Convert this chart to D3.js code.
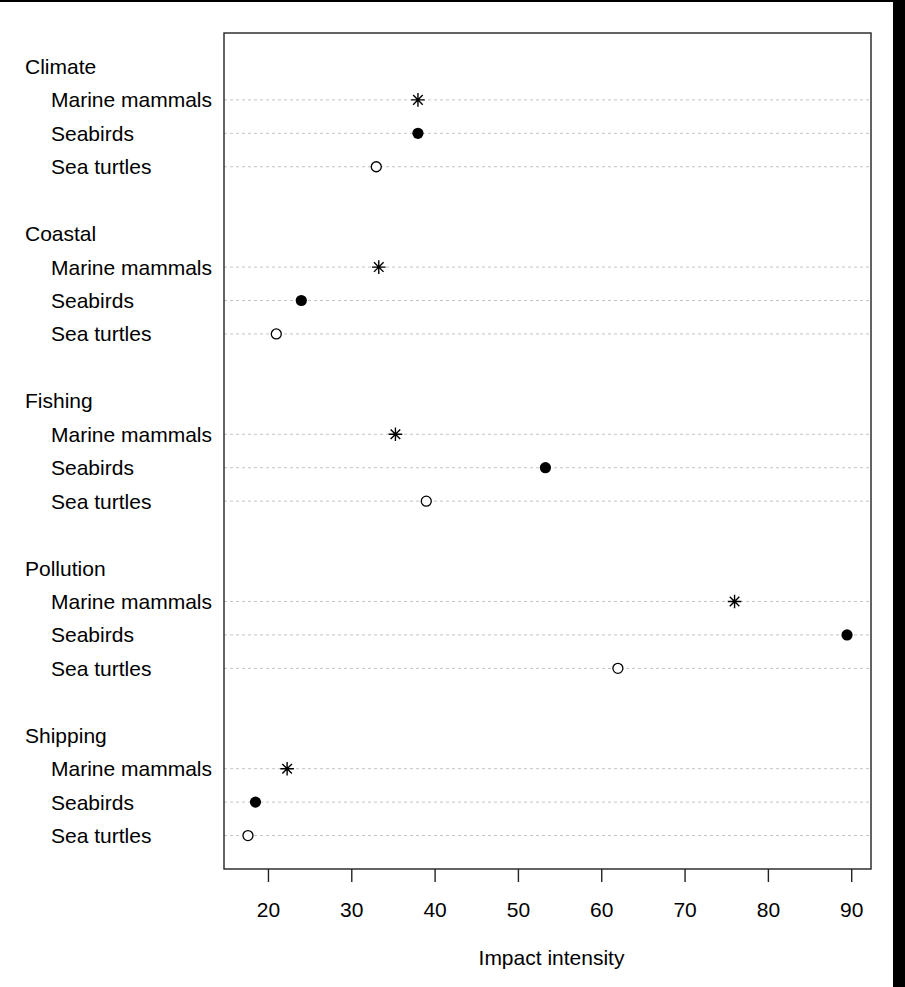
<!DOCTYPE html>
<html>
<head>
<meta charset="utf-8">
<script src="https://cdn.jsdelivr.net/npm/d3@7"></script>
<style>
  html, body { margin: 0; padding: 0; background: #fff; }
  svg { display: block; }
  text { font-family: "Liberation Sans", Arial, Helvetica, sans-serif; fill: #000; }
</style>
</head>
<body>
<script>
// Threat categories and affected taxa
const groups = ["Climate", "Coastal", "Fishing", "Pollution", "Shipping"];
const taxa = ["Marine mammals", "Seabirds", "Sea turtles"];

// Impact intensity per threat (same order as groups)
const marineMammals = [38.0, 33.3, 35.3, 76.0, 22.3];
const seabirds      = [38.0, 24.0, 53.3, 89.5, 18.5];
const seaTurtles    = [33.0, 21.0, 39.0, 62.0, 17.6];

const xTicks = [20, 30, 40, 50, 60, 70, 80, 90];
const xTitle = "Impact intensity";

const W = 905, H = 987;
const box = { left: 224, right: 871, top: 33, bottom: 869 };
const fontSize = 21;

const svg = d3.select("body").append("svg")
  .attr("width", W).attr("height", H);

svg.append("rect").attr("width", W).attr("height", H).attr("fill", "#fff");

// x range padded 4% on each side of the data range
const allVals = marineMammals.concat(seabirds, seaTurtles);
const [lo, hi] = d3.extent(allVals);
const pad = (hi - lo) * 0.04;
const x = d3.scaleLinear().domain([lo - pad, hi + pad]).range([box.left, box.right]);

// one row per label line, with a blank row between groups
const nLines = groups.length * (taxa.length + 1) + (groups.length - 1);
const y = d3.scaleLinear().domain([0, nLines + 1]).range([box.bottom, box.top]);

const seriesByTaxon = [marineMammals, seabirds, seaTurtles];
const rows = [];
groups.forEach((g, gi) => {
  const head = nLines - gi * (taxa.length + 2);
  rows.push({ kind: "group", label: g, pos: head });
  taxa.forEach((t, ti) => {
    rows.push({ kind: "item", label: t, pos: head - 1 - ti, taxon: ti, value: seriesByTaxon[ti][gi] });
  });
});
const items = rows.filter(r => r.kind === "item");

// dotted guide lines
svg.append("g").selectAll("line").data(items).join("line")
  .attr("x1", box.left).attr("x2", box.right)
  .attr("y1", d => y(d.pos)).attr("y2", d => y(d.pos))
  .attr("stroke", "#c4c4c4").attr("stroke-width", 1)
  .attr("stroke-dasharray", "3,3");

// row labels
svg.append("g").selectAll("text").data(rows).join("text")
  .attr("x", d => d.kind === "group" ? 25 : 51)
  .attr("y", d => y(d.pos) + 7.5)
  .attr("font-size", fontSize)
  .text(d => d.label);

// markers: asterisk, filled circle, open circle
const pts = svg.append("g");
items.forEach(d => {
  const cx = x(d.value), cy = y(d.pos);
  if (d.taxon === 0) {
    const r = 6.8, q = 4.8;
    const path = d3.path();
    path.moveTo(cx - r, cy); path.lineTo(cx + r, cy);
    path.moveTo(cx, cy - r); path.lineTo(cx, cy + r);
    path.moveTo(cx - q, cy - q); path.lineTo(cx + q, cy + q);
    path.moveTo(cx - q, cy + q); path.lineTo(cx + q, cy - q);
    pts.append("path").attr("d", path.toString())
      .attr("stroke", "#000").attr("stroke-width", 1.4).attr("fill", "none");
  } else if (d.taxon === 1) {
    pts.append("circle").attr("cx", cx).attr("cy", cy).attr("r", 5.6).attr("fill", "#000");
  } else {
    pts.append("circle").attr("cx", cx).attr("cy", cy).attr("r", 5.0)
      .attr("fill", "#fff").attr("stroke", "#000").attr("stroke-width", 1.3);
  }
});

// plot frame
svg.append("rect")
  .attr("x", box.left).attr("y", box.top)
  .attr("width", box.right - box.left).attr("height", box.bottom - box.top)
  .attr("fill", "none").attr("stroke", "#222").attr("stroke-width", 1.4);

// bottom axis
const axis = svg.append("g").attr("transform", `translate(0,${box.bottom})`)
  .call(d3.axisBottom(x).tickValues(xTicks).tickSize(13).tickPadding(20).tickFormat(d3.format("d")));
axis.select(".domain").remove();
axis.selectAll(".tick line").attr("stroke", "#222").attr("stroke-width", 1.4);
axis.selectAll(".tick text").attr("font-size", fontSize)
  .attr("font-family", "Liberation Sans, Arial, sans-serif").attr("fill", "#000");

svg.append("text")
  .attr("x", (box.left + box.right) / 2 + 4).attr("y", 965)
  .attr("text-anchor", "middle").attr("font-size", fontSize)
  .text(xTitle);

// outer page edge
svg.append("rect").attr("x", 0).attr("y", 0).attr("width", W).attr("height", 2).attr("fill", "#000");
svg.append("rect").attr("x", 893).attr("y", 0).attr("width", W - 893).attr("height", H).attr("fill", "#000");
</script>
</body>
</html>
